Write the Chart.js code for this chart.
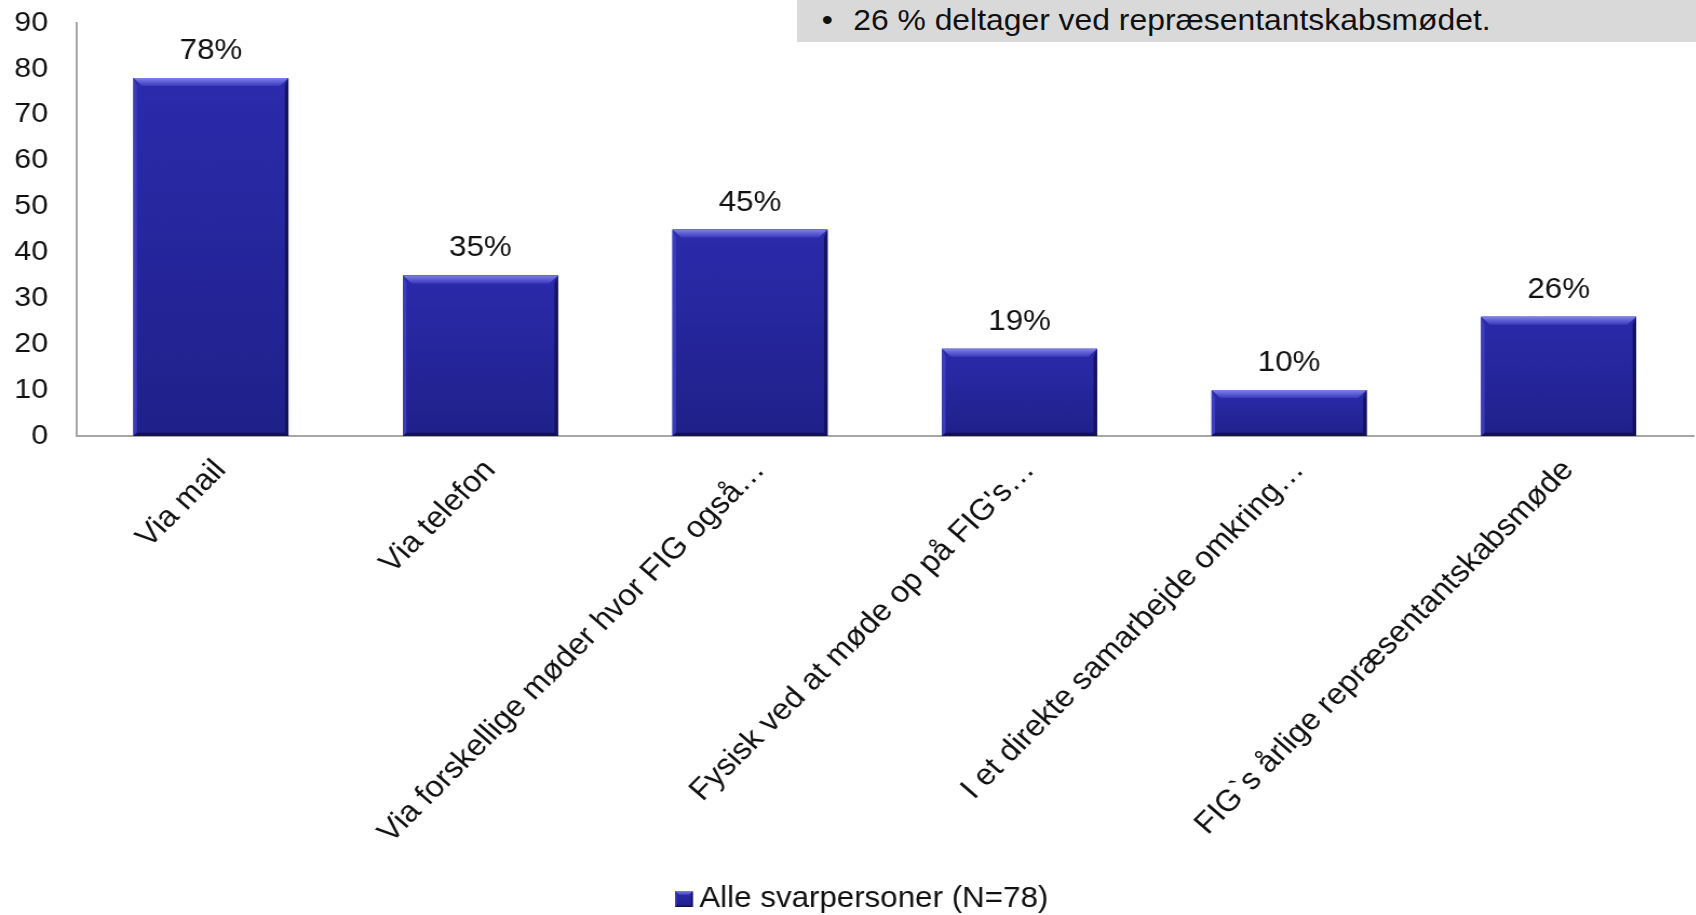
<!DOCTYPE html>
<html>
<head>
<meta charset="utf-8">
<script src="https://cdn.jsdelivr.net/npm/chart.js@4.4.1/dist/chart.umd.min.js"></script>
<style>
html,body{margin:0;padding:0;background:#fff;overflow:hidden;}
#wrap{position:relative;width:1696px;height:915px;overflow:hidden;}
#stretch{position:absolute;left:0;top:0;width:1570px;height:915px;transform:scaleX(1.08);transform-origin:0 0;}
#note{position:absolute;left:797px;top:0;width:899px;height:42px;background:#d9d9d9;}
#note .in{position:absolute;left:0;top:0;transform:scaleX(1.08);transform-origin:0 0;
font-family:"Liberation Sans",Arial,sans-serif;font-size:29.5px;color:#111;line-height:40px;white-space:nowrap;}
#note .b{position:absolute;left:23px;top:0;}
#note .t{position:absolute;left:52px;top:0;}
</style>
</head>
<body>
<div id="wrap">
<div id="stretch"><canvas id="c" width="1570" height="915"></canvas></div>
<div id="note"><div class="in"><span class="b">•</span><span class="t">26 % deltager ved repræsentantskabsmødet.</span></div></div>
</div>
<script>
const categories = ["Via mail","Via telefon","Via forskellige møder hvor FIG også…","Fysisk ved at møde op på FIG's…","I et direkte samarbejde omkring…","FIG`s årlige repræsentantskabsmøde"];
const values = [78,35,45,19,10,26];
const valueLabels = ["78%","35%","45%","19%","10%","26%"];
const seriesName = "Alle svarpersoner (N=78)";
const yTicks = [0,10,20,30,40,50,60,70,80,90];

const FONT = "'Liberation Sans', Arial, sans-serif";

function bevelRect(ctx,l,t,r,b,bv){
  let g = ctx.createLinearGradient(0,t,0,b);
  g.addColorStop(0,'#2b2bac'); g.addColorStop(1,'#20208a');
  ctx.fillStyle = g; ctx.fillRect(l,t,r-l,b-t);
  g = ctx.createLinearGradient(0,t,0,t+bv);
  g.addColorStop(0,'#8080ea'); g.addColorStop(1,'#3a3abc');
  ctx.fillStyle = g;
  ctx.beginPath(); ctx.moveTo(l,t); ctx.lineTo(r,t); ctx.lineTo(r-bv,t+bv); ctx.lineTo(l+bv,t+bv); ctx.closePath(); ctx.fill();
  ctx.fillStyle = 'rgba(64,64,196,0.85)';
  ctx.beginPath(); ctx.moveTo(l,t); ctx.lineTo(l+bv*0.4,t+bv); ctx.lineTo(l+bv*0.4,b-bv*0.4); ctx.lineTo(l,b); ctx.closePath(); ctx.fill();
  ctx.fillStyle = 'rgba(18,18,86,0.9)';
  ctx.beginPath(); ctx.moveTo(r,t); ctx.lineTo(r-bv*0.4,t+bv); ctx.lineTo(r-bv*0.4,b-bv*0.4); ctx.lineTo(r,b); ctx.closePath(); ctx.fill();
  ctx.fillStyle = 'rgba(16,16,76,0.9)';
  ctx.beginPath(); ctx.moveTo(l,b); ctx.lineTo(l+bv*0.4,b-bv*0.4); ctx.lineTo(r-bv*0.4,b-bv*0.4); ctx.lineTo(r,b); ctx.closePath(); ctx.fill();
}

const bevelPlugin = {
  id:'bevel',
  afterDatasetsDraw(chart){
    const ctx = chart.ctx;
    const meta = chart.getDatasetMeta(0);
    meta.data.forEach((bar,i)=>{
      const p = bar.getProps(['x','y','base','width'],true);
      ctx.save();
      bevelRect(ctx, p.x - p.width/2, p.y, p.x + p.width/2, p.base, 8);
      ctx.fillStyle = '#111';
      ctx.font = "29px " + FONT;
      ctx.textAlign = 'center';
      ctx.textBaseline = 'alphabetic';
      ctx.fillText(valueLabels[i], p.x, p.y - 19);
      ctx.restore();
    });
  },
  afterDraw(chart){
    const ctx = chart.ctx;
    ctx.save();
    const bx = 625, by = 891, bw = 16.5, bh = 16;
    bevelRect(ctx, bx, by, bx+bw, by+bh, 4);
    ctx.fillStyle = '#111';
    ctx.font = "29px " + FONT;
    ctx.textAlign = 'left';
    ctx.textBaseline = 'alphabetic';
    ctx.fillText(chart.data.datasets[0].label, 647.5, 907);
    ctx.restore();
  }
};

const ctx = document.getElementById('c').getContext('2d');
new Chart(ctx,{
  type:'bar',
  data:{
    labels:categories,
    datasets:[{
      label:seriesName,
      data:values,
      backgroundColor:'#25259a',
      borderWidth:0,
      barPercentage:0.575,
      categoryPercentage:1
    }]
  },
  options:{
    responsive:false,
    animation:false,
    devicePixelRatio:1,
    layout:{padding:{top:23,right:2,left:0,bottom:0}},
    plugins:{
      legend:{display:false},
      tooltip:{enabled:false}
    },
    scales:{
      x:{
        grid:{display:false,drawTicks:false},
        border:{display:true,color:'#a6a6a6',width:2},
        ticks:{
          autoSkip:false,maxRotation:47,minRotation:47,
          font:{family:FONT,size:30},color:'#111',padding:17,labelOffset:9
        },
        afterFit(s){ s.height = 479; s.paddingLeft = 0; s.paddingRight = 0; }
      },
      y:{
        min:0,max:90,
        grid:{display:false,drawTicks:false},
        border:{display:true,color:'#a6a6a6',width:2},
        afterBuildTicks(s){ s.ticks = yTicks.map(v=>({value:v})); },
        ticks:{font:{family:FONT,size:28},color:'#111',padding:26},
        afterFit(s){ s.width = 70.5; s.paddingTop = 0; s.paddingBottom = 0; }
      }
    }
  },
  plugins:[bevelPlugin]
});
</script>
</body>
</html>
